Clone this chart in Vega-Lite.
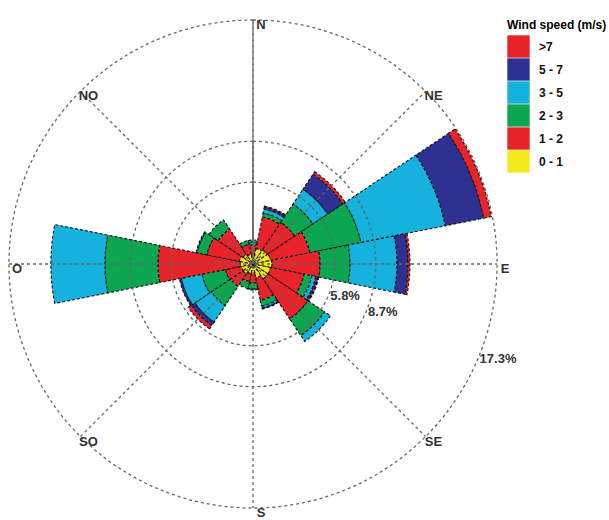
{
  "$schema": "https://vega.github.io/schema/vega-lite/v6.json",
  "width": 488,
  "height": 488,
  "autosize": {"type": "none"},
  "padding": {"left": 9, "top": 20, "right": 112, "bottom": 12},
  "background": "white",
  "config": {"view": {"stroke": null}},
  "datasets": {
    "sectors": [
      {"d": "N", "a0": -11.25, "a1": 11.25},
      {"d": "NNE", "a0": 11.25, "a1": 33.75},
      {"d": "NE", "a0": 33.75, "a1": 56.25},
      {"d": "ENE", "a0": 56.25, "a1": 78.75},
      {"d": "E", "a0": 78.75, "a1": 101.25},
      {"d": "ESE", "a0": 101.25, "a1": 123.75},
      {"d": "SE", "a0": 123.75, "a1": 146.25},
      {"d": "SSE", "a0": 146.25, "a1": 168.75},
      {"d": "S", "a0": 168.75, "a1": 191.25},
      {"d": "SSW", "a0": 191.25, "a1": 213.75},
      {"d": "SW", "a0": 213.75, "a1": 236.25},
      {"d": "WSW", "a0": 236.25, "a1": 258.75},
      {"d": "W", "a0": 258.75, "a1": 281.25},
      {"d": "WNW", "a0": 281.25, "a1": 303.75},
      {"d": "NW", "a0": 303.75, "a1": 326.25},
      {"d": "NNW", "a0": 326.25, "a1": 348.75}
    ],
    "petals": [
      {"d": "N", "bin": "0 - 1", "lo": 0, "hi": 0.71},
      {"d": "N", "bin": "1 - 2", "lo": 0.71, "hi": 1.35},
      {"d": "N", "bin": "2 - 3", "lo": 1.35, "hi": 1.56},
      {"d": "N", "bin": "3 - 5", "lo": 1.56, "hi": 1.7},
      {"d": "NNE", "bin": "0 - 1", "lo": 0, "hi": 1.13},
      {"d": "NNE", "bin": "1 - 2", "lo": 1.13, "hi": 3.4},
      {"d": "NNE", "bin": "2 - 3", "lo": 3.4, "hi": 3.69},
      {"d": "NNE", "bin": "3 - 5", "lo": 3.69, "hi": 3.97},
      {"d": "NNE", "bin": "5 - 7", "lo": 3.97, "hi": 4.11},
      {"d": "NNE", "bin": ">7", "lo": 4.11, "hi": 4.18},
      {"d": "NE", "bin": "0 - 1", "lo": 0, "hi": 1.21},
      {"d": "NE", "bin": "1 - 2", "lo": 1.21, "hi": 3.55},
      {"d": "NE", "bin": "2 - 3", "lo": 3.55, "hi": 5.11},
      {"d": "NE", "bin": "3 - 5", "lo": 5.11, "hi": 6.38},
      {"d": "NE", "bin": "5 - 7", "lo": 6.38, "hi": 7.66},
      {"d": "NE", "bin": ">7", "lo": 7.66, "hi": 7.87},
      {"d": "ENE", "bin": "0 - 1", "lo": 0, "hi": 1.28},
      {"d": "ENE", "bin": "1 - 2", "lo": 1.28, "hi": 4.11},
      {"d": "ENE", "bin": "2 - 3", "lo": 4.11, "hi": 7.8},
      {"d": "ENE", "bin": "3 - 5", "lo": 7.8, "hi": 13.9},
      {"d": "ENE", "bin": "5 - 7", "lo": 13.9, "hi": 16.67},
      {"d": "ENE", "bin": ">7", "lo": 16.67, "hi": 17.23},
      {"d": "E", "bin": "0 - 1", "lo": 0, "hi": 1.35},
      {"d": "E", "bin": "1 - 2", "lo": 1.35, "hi": 4.75},
      {"d": "E", "bin": "2 - 3", "lo": 4.75, "hi": 6.88},
      {"d": "E", "bin": "3 - 5", "lo": 6.88, "hi": 10.21},
      {"d": "E", "bin": "5 - 7", "lo": 10.21, "hi": 10.99},
      {"d": "E", "bin": ">7", "lo": 10.99, "hi": 11.13},
      {"d": "ESE", "bin": "0 - 1", "lo": 0, "hi": 1.28},
      {"d": "ESE", "bin": "1 - 2", "lo": 1.28, "hi": 3.69},
      {"d": "ESE", "bin": "2 - 3", "lo": 3.69, "hi": 4.26},
      {"d": "ESE", "bin": "3 - 5", "lo": 4.26, "hi": 4.54},
      {"d": "ESE", "bin": "5 - 7", "lo": 4.54, "hi": 4.68},
      {"d": "ESE", "bin": ">7", "lo": 4.68, "hi": 4.75},
      {"d": "SE", "bin": "0 - 1", "lo": 0, "hi": 1.28},
      {"d": "SE", "bin": "1 - 2", "lo": 1.28, "hi": 4.68},
      {"d": "SE", "bin": "2 - 3", "lo": 4.68, "hi": 6.1},
      {"d": "SE", "bin": "3 - 5", "lo": 6.1, "hi": 6.6},
      {"d": "SSE", "bin": "0 - 1", "lo": 0, "hi": 0.99},
      {"d": "SSE", "bin": "1 - 2", "lo": 0.99, "hi": 2.62},
      {"d": "SSE", "bin": "2 - 3", "lo": 2.62, "hi": 3.05},
      {"d": "SSE", "bin": "3 - 5", "lo": 3.05, "hi": 3.19},
      {"d": "SSE", "bin": "5 - 7", "lo": 3.19, "hi": 3.26},
      {"d": "S", "bin": "0 - 1", "lo": 0, "hi": 0.71},
      {"d": "S", "bin": "1 - 2", "lo": 0.71, "hi": 1.35},
      {"d": "S", "bin": "2 - 3", "lo": 1.35, "hi": 1.77},
      {"d": "S", "bin": "3 - 5", "lo": 1.77, "hi": 1.84},
      {"d": "SSW", "bin": "0 - 1", "lo": 0, "hi": 0.71},
      {"d": "SSW", "bin": "1 - 2", "lo": 0.71, "hi": 1.28},
      {"d": "SSW", "bin": "2 - 3", "lo": 1.28, "hi": 1.77},
      {"d": "SW", "bin": "0 - 1", "lo": 0, "hi": 0.85},
      {"d": "SW", "bin": "1 - 2", "lo": 0.85, "hi": 1.91},
      {"d": "SW", "bin": "2 - 3", "lo": 1.91, "hi": 3.55},
      {"d": "SW", "bin": "3 - 5", "lo": 3.55, "hi": 4.96},
      {"d": "SW", "bin": "5 - 7", "lo": 4.96, "hi": 5.25},
      {"d": "SW", "bin": ">7", "lo": 5.25, "hi": 5.53},
      {"d": "WSW", "bin": "0 - 1", "lo": 0, "hi": 0.85},
      {"d": "WSW", "bin": "1 - 2", "lo": 0.85, "hi": 1.99},
      {"d": "WSW", "bin": "2 - 3", "lo": 1.99, "hi": 3.69},
      {"d": "WSW", "bin": "3 - 5", "lo": 3.69, "hi": 5.18},
      {"d": "WSW", "bin": "5 - 7", "lo": 5.18, "hi": 5.32},
      {"d": "W", "bin": "0 - 1", "lo": 0, "hi": 0.92},
      {"d": "W", "bin": "1 - 2", "lo": 0.92, "hi": 6.74},
      {"d": "W", "bin": "2 - 3", "lo": 6.74, "hi": 10.5},
      {"d": "W", "bin": "3 - 5", "lo": 10.5, "hi": 14.33},
      {"d": "WNW", "bin": "0 - 1", "lo": 0, "hi": 0.99},
      {"d": "WNW", "bin": "1 - 2", "lo": 0.99, "hi": 3.33},
      {"d": "WNW", "bin": "2 - 3", "lo": 3.33, "hi": 4.04},
      {"d": "WNW", "bin": "3 - 5", "lo": 4.04, "hi": 4.11},
      {"d": "NW", "bin": "0 - 1", "lo": 0, "hi": 0.85},
      {"d": "NW", "bin": "1 - 2", "lo": 0.85, "hi": 2.98},
      {"d": "NW", "bin": "2 - 3", "lo": 2.98, "hi": 3.76},
      {"d": "NNW", "bin": "0 - 1", "lo": 0, "hi": 0.71},
      {"d": "NNW", "bin": "1 - 2", "lo": 0.71, "hi": 1.42},
      {"d": "NNW", "bin": "2 - 3", "lo": 1.42, "hi": 1.7}
    ],
    "rings": [
      {"pct": 5.8, "label": "5.8%"},
      {"pct": 8.7, "label": "8.7%"},
      {"pct": 17.3, "label": "17.3%"}
    ],
    "spokes": [
      {"e0": 0, "n0": 17.3, "e1": 0, "n1": -17.3},
      {"e0": -12.23, "n0": -12.23, "e1": 12.23, "n1": 12.23},
      {"e0": -17.3, "n0": 0, "e1": 17.3, "n1": 0},
      {"e0": -12.23, "n0": 12.23, "e1": 12.23, "n1": -12.23}
    ],
    "compass": [
      {"name": "N", "deg": 0},
      {"name": "NE", "deg": 45},
      {"name": "E", "deg": 90},
      {"name": "SE", "deg": 135},
      {"name": "S", "deg": 180},
      {"name": "SO", "deg": 225},
      {"name": "O", "deg": 270},
      {"name": "NO", "deg": 315}
    ]
  },
  "layer": [
    {
      "data": {"name": "petals"},
      "transform": [
        {"lookup": "d", "from": {"data": {"name": "sectors"}, "key": "d", "fields": ["a0", "a1"]}}
      ],
      "mark": {"type": "arc", "stroke": "#111111", "strokeWidth": 1.1, "strokeDash": [3, 2]},
      "encoding": {
        "theta": {"field": "a0", "type": "quantitative", "stack": null, "scale": {"domain": [0, 360], "range": [0, 6.283185307], "nice": false, "zero": false}},
        "theta2": {"field": "a1"},
        "radius": {"field": "hi", "type": "quantitative", "stack": null, "scale": {"type": "linear", "domain": [0, 17.3], "range": [0, 244], "nice": false, "zero": true}},
        "radius2": {"field": "lo"},
        "color": {
          "field": "bin",
          "type": "nominal",
          "scale": {
            "domain": [">7", "5 - 7", "3 - 5", "2 - 3", "1 - 2", "0 - 1"],
            "range": ["#e8232a", "#2e3192", "#14b2dc", "#0ca650", "#e8232a", "#f2ea1d"]
          },
          "legend": {
            "title": "Wind speed (m/s)",
            "orient": "none",
            "legendX": 498,
            "legendY": 0,
            "padding": 0,
            "titleFont": "Liberation Sans",
            "titleFontSize": 12,
            "titleFontWeight": "bold",
            "titleColor": "#000000",
            "titlePadding": 3,
            "labelFont": "Liberation Sans",
            "labelFontSize": 12,
            "labelFontWeight": "bold",
            "labelColor": "#111111",
            "labelOffset": 9,
            "symbolType": "square",
            "symbolSize": 500,
            "symbolStrokeWidth": 0,
            "symbolOpacity": 1,
            "rowPadding": 0
          }
        }
      }
    },
    {
      "data": {"name": "rings"},
      "mark": {"type": "arc", "filled": false, "fill": null, "stroke": "#666666", "strokeWidth": 1.3, "strokeDash": [3, 3]},
      "encoding": {
        "theta": {"datum": 0, "type": "quantitative", "stack": null, "scale": {"domain": [0, 360], "range": [0, 6.283185307], "nice": false, "zero": false}},
        "theta2": {"datum": 360},
        "radius": {"field": "pct", "type": "quantitative", "stack": null, "scale": {"type": "linear", "domain": [0, 17.3], "range": [0, 244], "nice": false, "zero": true}}
      }
    },
    {
      "data": {"name": "spokes"},
      "mark": {"type": "rule", "stroke": "#666666", "strokeWidth": 1.3, "strokeDash": [3, 3]},
      "encoding": {
        "x": {"field": "e0", "type": "quantitative", "axis": null, "scale": {"domain": [-17.3, 17.3], "nice": false, "zero": false}},
        "x2": {"field": "e1"},
        "y": {"field": "n0", "type": "quantitative", "axis": null, "scale": {"domain": [-17.3, 17.3], "nice": false, "zero": false}},
        "y2": {"field": "n1"}
      }
    },
    {
      "data": {"name": "rings"},
      "mark": {"type": "text", "align": "left", "baseline": "middle", "dx": 2, "font": "Liberation Sans", "fontSize": 13, "fontWeight": "bold", "fill": "#333333"},
      "encoding": {
        "theta": {"datum": 113, "type": "quantitative", "stack": null, "scale": {"domain": [0, 360], "range": [0, 6.283185307], "nice": false, "zero": false}},
        "radius": {"field": "pct", "type": "quantitative", "stack": null, "scale": {"type": "linear", "domain": [0, 17.3], "range": [0, 244], "nice": false, "zero": true}},
        "text": {"field": "label"}
      }
    },
    {
      "data": {"name": "compass"},
      "mark": {"type": "text", "align": "center", "baseline": "middle", "dx": 8, "dy": 5, "font": "Liberation Sans", "fontSize": 13, "fontWeight": "bold", "fill": "#333333"},
      "encoding": {
        "theta": {"field": "deg", "type": "quantitative", "stack": null, "scale": {"domain": [0, 360], "range": [0, 6.283185307], "nice": false, "zero": false}},
        "radius": {"datum": 17.3, "type": "quantitative", "stack": null, "scale": {"type": "linear", "domain": [0, 17.3], "range": [0, 244], "nice": false, "zero": true}},
        "text": {"field": "name"}
      }
    }
  ]
}
